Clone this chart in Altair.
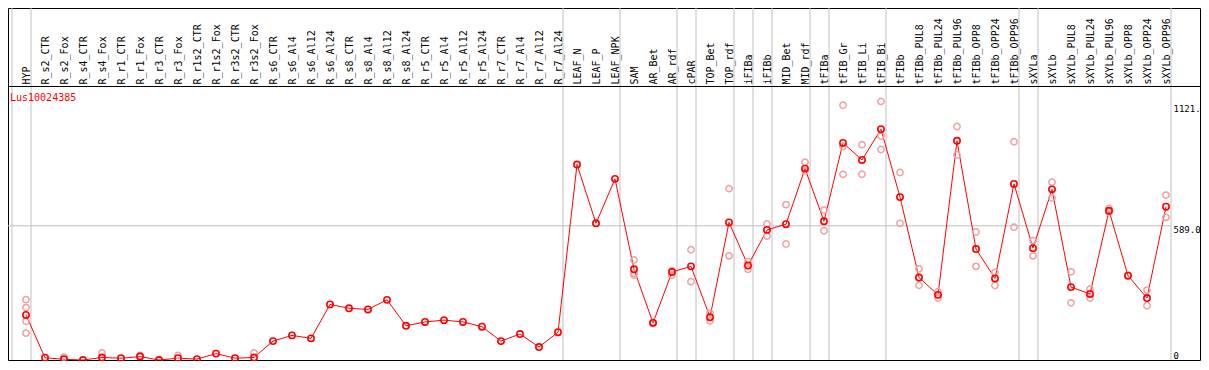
import json
import altair as alt
import pandas as pd

labels = ["HYP", "R_s2_CTR", "R_s2_Fox", "R_s4_CTR", "R_s4_Fox", "R_r1_CTR", "R_r1_Fox",
          "R_r3_CTR", "R_r3_Fox", "R_r1s2_CTR", "R_r1s2_Fox", "R_r3s2_CTR", "R_r3s2_Fox",
          "R_s6_CTR", "R_s6_Al4", "R_s6_Al12", "R_s6_Al24", "R_s8_CTR", "R_s8_Al4",
          "R_s8_Al12", "R_s8_Al24", "R_r5_CTR", "R_r5_Al4", "R_r5_Al12", "R_r5_Al24",
          "R_r7_CTR", "R_r7_Al4", "R_r7_Al12", "R_r7_Al24", "LEAF_N", "LEAF_P", "LEAF_NPK",
          "SAM", "AR_Bet", "AR_rdf", "cPAR", "TOP_Bet", "TOP_rdf", "iFIBa", "iFIBb",
          "MID_Bet", "MID_rdf", "tFIBa", "tFIB_Gr", "tFIB_Li", "tFIB_Bi", "tFIBb",
          "tFIBb_PUL8", "tFIBb_PUL24", "tFIBb_PUL96", "tFIBb_OPP8", "tFIBb_OPP24",
          "tFIBb_OPP96", "sXYLa", "sXYLb", "sXYLb_PUL8", "sXYLb_PUL24", "sXYLb_PUL96",
          "sXYLb_OPP8", "sXYLb_OPP24", "sXYLb_OPP96"]

means = [198, 10, 3, 0, 11, 8, 15, 0, 8, 4, 28, 8, 11,
         83, 108, 95, 244, 227, 222, 264, 150, 167, 175, 167, 146,
         83, 114, 57, 122, 858, 600, 795, 398, 163, 386, 411, 188, 604,
         415, 571, 596, 840, 609, 953, 878, 1013, 715,
         362, 286, 962, 487, 358, 773, 491, 749, 320, 290, 655, 370, 272, 673]

rep_labels = ["HYP", "HYP", "HYP", "HYP", "R_s2_Fox", "R_s4_Fox", "R_r1_Fox", "R_r3_Fox",
              "R_r3s2_Fox", "SAM", "SAM", "SAM", "AR_Bet", "AR_Bet", "AR_rdf", "AR_rdf",
              "cPAR", "cPAR", "TOP_Bet", "TOP_Bet", "TOP_rdf", "TOP_rdf", "iFIBa", "iFIBa",
              "iFIBb", "iFIBb", "MID_Bet", "MID_Bet", "MID_rdf", "MID_rdf", "tFIBa", "tFIBa",
              "tFIB_Gr", "tFIB_Gr", "tFIB_Gr", "tFIB_Li", "tFIB_Li", "tFIB_Bi", "tFIB_Bi",
              "tFIB_Bi", "tFIBb", "tFIBb", "tFIBb_PUL8", "tFIBb_PUL8", "tFIBb_PUL24",
              "tFIBb_PUL24", "tFIBb_PUL96", "tFIBb_PUL96", "tFIBb_OPP8", "tFIBb_OPP8",
              "tFIBb_OPP24", "tFIBb_OPP24", "tFIBb_OPP96", "tFIBb_OPP96", "sXYLa", "sXYLa",
              "sXYLb", "sXYLb", "sXYLb_PUL8", "sXYLb_PUL8", "sXYLb_PUL24", "sXYLb_PUL24",
              "sXYLb_PUL96", "sXYLb_PUL96", "sXYLb_OPP8", "sXYLb_OPP24", "sXYLb_OPP24",
              "sXYLb_OPP96", "sXYLb_OPP96"]
rep_values = [265, 230, 170, 118, 13, 31, 20, 20,
              31, 439, 373, 380, 160, 166, 373, 392,
              484, 344, 206, 171, 752, 457, 432, 398,
              597, 544, 682, 509, 868, 830, 658, 567,
              1118, 937, 815, 945, 815, 1135, 983,
              924, 823, 600, 400, 328, 300,
              272, 1025, 900, 562, 411,
              384, 327, 958, 583, 524, 457,
              781, 711, 387, 251, 311, 272,
              665, 650, 372, 307, 238,
              724, 626]

group_starts = ["HYP", "R_s2_CTR", "LEAF_N", "SAM", "cPAR", "TOP_Bet", "iFIBa", "iFIBb",
                "MID_Bet", "tFIBa", "tFIB_Gr", "tFIBb", "sXYLa", "sXYLb"]
y_ticks = [0, 589, 1121]
title_text = "Lus10024385"

FONT = "DejaVu Sans Mono"
W, H = 1192, 352
step = 19.0
x0 = 18.0
idx = {l: i for i, l in enumerate(labels)}

df_mean = pd.DataFrame({"i": list(range(len(labels))), "label": labels, "value": means})
df_rep = pd.DataFrame({"i": [idx[l] for l in rep_labels], "value": rep_values})
bounds = [idx[g] for g in group_starts] + [len(labels)]
df_bound = pd.DataFrame({"i": [b - 14.0 / step for b in bounds]})
df_grid = pd.DataFrame({"value": [y_ticks[1]]})
df_title = pd.DataFrame({"t": [title_text]})

xscale = alt.Scale(domain=[-x0 / step, -x0 / step + W / step], nice=False, zero=False)
yscale = alt.Scale(domain=[0, 1545], nice=False, zero=False)

x_axis = alt.Axis(
    orient="top", offset=-78, values=list(range(len(labels))),
    labelExpr=json.dumps(labels).replace('"', "'") + "[datum.value]",
    labelAngle=270, labelAlign="left", labelBaseline="middle", labelPadding=2,
    ticks=False, tickSize=0, domain=True, domainColor="black", domainWidth=1,
    grid=False, title=None, labelFont=FONT, labelFontSize=10, labelColor="black",
    labelOverlap=False, labelFlush=False, labelBound=False, zindex=1,
)
y_axis = alt.Axis(
    orient="right", values=y_ticks, offset=-27, domain=False, ticks=False, tickSize=0,
    grid=False, labelPadding=0, labelAlign="left",
    labelBaseline={"condition": {"test": "datum.value === 0", "value": "bottom"}, "value": "top"},
    labelExpr="datum.value === 0 ? '0' : slice(format(datum.value, '.1f'), 0, 5)",
    labelFont=FONT, labelFontSize=9, labelColor="black", title=None,
    labelFlush=False, labelOverlap=False, labelBound=False, zindex=1,
)

X = alt.X("i:Q", scale=xscale, axis=x_axis)
Y = alt.Y("value:Q", scale=yscale, axis=y_axis)

line = alt.Chart(df_mean).mark_line(color="#ff0000", strokeWidth=1).encode(x=X, y=Y)
vrules = alt.Chart(df_bound).mark_rule(color="#c0c0c0", strokeWidth=1).encode(x=X)
hrule = alt.Chart(df_grid).mark_rule(color="#c0c0c0", strokeWidth=1).encode(
    y=Y, x=alt.value(0), x2=alt.value(1163)
)
reps = alt.Chart(df_rep).mark_point(
    shape="circle", filled=False, color="#f0a0a0", size=40, strokeWidth=1.5, opacity=1
).encode(x=X, y=Y)
pts = alt.Chart(df_mean).mark_point(
    shape="circle", filled=False, color="#ff0000", size=40, strokeWidth=1.6, opacity=1
).encode(x=X, y=Y, tooltip=["label:N", "value:Q"])
title = alt.Chart(df_title).mark_text(
    color="#ff0000", font=FONT, fontSize=10, align="left", baseline="middle"
).encode(text="t:N", x=alt.value(2), y=alt.value(90))

chart = alt.layer(vrules, hrule, line, reps, pts, title).properties(
    width=W, height=H, padding={"left": 0, "top": 0, "right": 1, "bottom": 1},
    autosize=alt.AutoSizeParams(type="none"), background="white",
).configure_view(stroke="black", strokeWidth=1)

chart.save("out.html", embed_options={"renderer": "svg", "actions": False})
